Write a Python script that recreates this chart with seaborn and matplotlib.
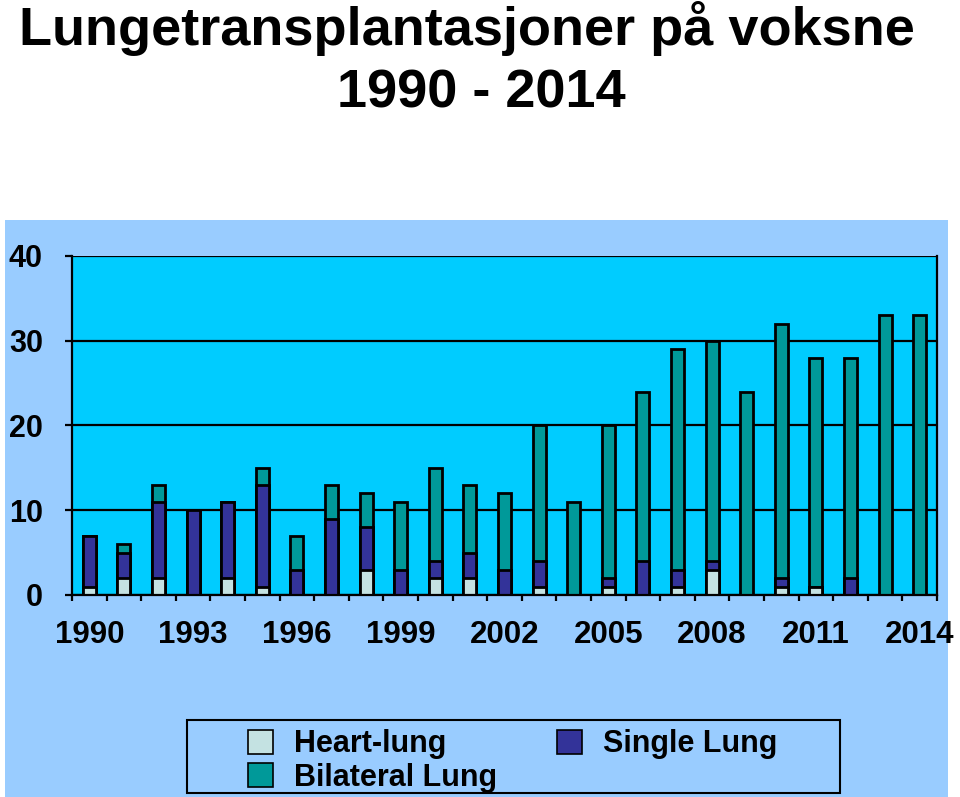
import numpy as np
import pandas as pd
import matplotlib
matplotlib.use("Agg")
import matplotlib.pyplot as plt
from matplotlib.patches import Patch, Rectangle
import seaborn as sns

years = list(range(1990, 2015))
heart_lung = [1, 2, 2, 0, 2, 1, 0, 0, 3, 0, 2, 2, 0, 1, 0, 1, 0, 1, 3, 0, 1, 1, 0, 0, 0]
single_lung = [6, 3, 9, 10, 9, 12, 3, 9, 5, 3, 2, 3, 3, 3, 0, 1, 4, 2, 1, 0, 1, 0, 2, 0, 0]
bilateral_lung = [0, 1, 2, 0, 0, 2, 4, 4, 4, 8, 11, 8, 9, 16, 11, 18, 20, 26, 26, 24, 30, 27, 26, 33, 33]
tick_years = [1990, 1993, 1996, 1999, 2002, 2005, 2008, 2011, 2014]
series_names = ["Heart-lung", "Single Lung", "Bilateral Lung"]

c_hl = "#C4E2E2"
c_sl = "#333399"
c_bl = "#009999"
c_plot = "#00CCFF"
c_outer = "#99CCFF"

plt.rcParams["font.family"] = ["Liberation Sans", "DejaVu Sans"]
plt.rcParams["font.weight"] = "bold"

fig = plt.figure(figsize=(9.6, 7.97), dpi=100, facecolor="white")
bg = Rectangle((5 / 960, 0), 943 / 960, 577 / 797, transform=fig.transFigure,
               facecolor=c_outer, edgecolor="none", zorder=-10)
fig.patches.append(bg)

ax = fig.add_axes([72 / 960, 1 - 595 / 797, (937 - 72) / 960, (595 - 256) / 797])
ax.set_zorder(5)
ax.set_facecolor(c_plot)

df = pd.DataFrame({"year": [str(y) for y in years],
                   "hl": heart_lung, "sl": single_lung, "bl": bilateral_lung})
df["hl_sl"] = df["hl"] + df["sl"]
df["total"] = df["hl_sl"] + df["bl"]
order = df["year"].tolist()

common = dict(x="year", order=order, width=0.38, edgecolor="black", linewidth=2.0,
              saturation=1, errorbar=None, ax=ax, data=df)
sns.barplot(y="total", color=c_bl, **common)
sns.barplot(y="hl_sl", color=c_sl, **common)
sns.barplot(y="hl", color=c_hl, **common)

ax.set_xlim(-0.5, 24.5)
ax.set_ylim(0, 40)
ax.set_yticks([0, 10, 20, 30, 40])
ax.set_xticks([years.index(y) for y in tick_years])
ax.set_xticklabels([str(y) for y in tick_years])
ax.set_xticks(np.arange(-0.5, 25, 1), minor=True)
ax.set_xlabel("")
ax.set_ylabel("")
ax.set_axisbelow(True)
ax.yaxis.grid(True, color="black", linewidth=1.6)
ax.xaxis.grid(False)
for s in ["left", "bottom", "right"]:
    ax.spines[s].set_color("black")
    ax.spines[s].set_linewidth(1.6)
ax.spines["top"].set_visible(False)
ax.tick_params(axis="y", length=5, width=1.6, pad=16, labelsize=22)
ax.tick_params(axis="x", which="major", length=0, pad=18, labelsize=22.5)
ax.tick_params(axis="x", which="minor", length=4, width=1.6, direction="out")
for lab in ax.get_xticklabels() + ax.get_yticklabels():
    lab.set_fontweight("bold")

fig.text(467 / 960, 1 - 45 / 797, "Lungetransplantasjoner på voksne", ha="center",
         va="baseline", fontsize=39, fontweight="bold")
fig.text(481 / 960, 1 - 108 / 797, "1990 - 2014", ha="center",
         va="baseline", fontsize=39, fontweight="bold")

# legend box
fig.patches.append(Rectangle((187 / 960, 1 - 793 / 797), (840 - 187) / 960, (793 - 720) / 797,
                             transform=fig.transFigure, facecolor=c_outer,
                             edgecolor="black", linewidth=1.5, zorder=1))
handles = [Patch(facecolor=c_hl, edgecolor="black", linewidth=1.2),
           Patch(facecolor=c_bl, edgecolor="black", linewidth=1.2),
           Patch(facecolor=c_sl, edgecolor="black", linewidth=1.2)]
labels = [series_names[0], series_names[2], series_names[1]]
leg = fig.legend(handles, labels, ncol=2, frameon=False, loc="center",
                 bbox_to_anchor=(513 / 960, 1 - 761 / 797),
                 prop={"size": 22, "weight": "bold"}, handlelength=0.82, handleheight=0.82,
                 handletextpad=0.69, columnspacing=1.96, labelspacing=0.1, borderpad=0)
leg.set_zorder(2)

fig.savefig("out.png", dpi=100, facecolor="white")
